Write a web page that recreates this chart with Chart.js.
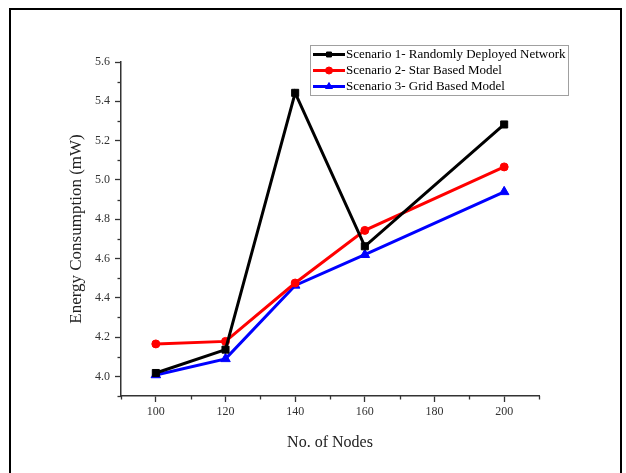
<!DOCTYPE html>
<html>
<head>
<meta charset="utf-8">
<script src="https://cdn.jsdelivr.net/npm/chart.js@4.4.0/dist/chart.umd.min.js"></script>
<style>
html,body{margin:0;padding:0;background:#fff;overflow:hidden;}
#wrap{position:relative;width:626px;height:473px;}
</style>
</head>
<body>
<div id="wrap"><canvas id="c" width="626" height="473"></canvas></div>
<script>
const nodes = [100, 120, 140, 160, 200];
const scenario1 = [4.017, 4.136, 5.443, 4.662, 5.282];
const scenario2 = [4.165, 4.178, 4.475, 4.743, 5.066];
const scenario3 = [4.007, 4.089, 4.463, 4.619, 4.939];
const seriesLabels = [
  'Scenario 1- Randomly Deployed Network',
  'Scenario 2- Star Based Model',
  'Scenario 3- Grid Based Model'
];
const xTickLabels = ['100', '120', '140', '160', '180', '200'];
const yTickLabels = ['4.0', '4.2', '4.4', '4.6', '4.8', '5.0', '5.2', '5.4', '5.6'];

const FONT = '"Liberation Serif", "Times New Roman", serif';
const AXIS = '#333';

function pts(vals) { return nodes.map((n, i) => ({x: n, y: vals[i]})); }

const frameAndLegend = {
  id: 'frameAndLegend',
  beforeDraw(chart) {
    const ctx = chart.ctx;
    ctx.save();
    ctx.fillStyle = '#fff';
    ctx.fillRect(0, 0, chart.width, chart.height);
    ctx.strokeStyle = '#000';
    ctx.lineWidth = 2;
    ctx.strokeRect(10, 9, 611, 520);
    ctx.restore();
  },
  afterDraw(chart) {
    const ctx = chart.ctx;
    ctx.save();
    // minor ticks
    ctx.strokeStyle = AXIS;
    ctx.lineWidth = 1.3;
    const xs = chart.scales.x, ys = chart.scales.y;
    xs.ticks.forEach(t => {
      if (!xTickLabels.includes(String(t.value))) {
        const px = Math.round(xs.getPixelForValue(t.value)) + 0.5;
        ctx.beginPath(); ctx.moveTo(px, xs.top); ctx.lineTo(px, xs.top + 3.5); ctx.stroke();
      }
    });
    ys.ticks.forEach(t => {
      if (!yTickLabels.includes(t.value.toFixed(1))) {
        const py = Math.round(ys.getPixelForValue(t.value)) + 0.5;
        ctx.beginPath(); ctx.moveTo(ys.right, py); ctx.lineTo(ys.right - 3.5, py); ctx.stroke();
      }
    });
    // legend
    ctx.strokeStyle = '#a0a0a0';
    ctx.lineWidth = 1;
    ctx.strokeRect(310.5, 45.5, 258, 50);
    chart.data.datasets.forEach((ds, i) => {
      const y = 54.5 + 16 * i;
      ctx.strokeStyle = ds.borderColor;
      ctx.lineWidth = 3;
      ctx.beginPath(); ctx.moveTo(313, y); ctx.lineTo(345, y); ctx.stroke();
      ctx.fillStyle = ds.borderColor;
      ctx.lineWidth = 1;
      Chart.helpers.drawPoint(ctx, {pointStyle: ds.pointStyle, radius: ds.pointStyle === 'triangle' ? 4 : 3.5, rotation: 0, borderWidth: 1}, 329, y);
      ctx.fillStyle = '#000';
      ctx.font = '13px ' + FONT;
      ctx.textBaseline = 'middle';
      ctx.textAlign = 'left';
      ctx.fillText(ds.label, 346, y + 0.5);
    });
    ctx.restore();
  }
};

new Chart(document.getElementById('c'), {
  type: 'line',
  data: {
    datasets: [
      {label: seriesLabels[0], data: pts(scenario1), borderColor: '#000', backgroundColor: '#000',
       pointStyle: 'rect', pointRadius: 5, borderWidth: 3, pointBorderWidth: 1},
      {label: seriesLabels[1], data: pts(scenario2), borderColor: '#ff0000', backgroundColor: '#ff0000',
       pointStyle: 'circle', pointRadius: 4, borderWidth: 3, pointBorderWidth: 1},
      {label: seriesLabels[2], data: pts(scenario3), borderColor: '#0000ff', backgroundColor: '#0000ff',
       pointStyle: 'triangle', pointRadius: 5.5, borderWidth: 3, pointBorderWidth: 1}
    ]
  },
  options: {
    responsive: false,
    animation: false,
    events: [],
    layout: {padding: {top: 62, right: 87, left: 0, bottom: 0}},
    plugins: {legend: {display: false}, tooltip: {enabled: false}},
    scales: {
      x: {
        type: 'linear', min: 90, max: 210,
        afterFit: s => { s.height = 77; },
        border: {color: AXIS, width: 1.5},
        grid: {drawOnChartArea: false, drawTicks: true, tickLength: 6,
               tickColor: c => (c.tick && xTickLabels.includes(String(c.tick.value))) ? AXIS : 'rgba(0,0,0,0)', tickWidth: 1.3},
        ticks: {stepSize: 10, autoSkip: false, maxRotation: 0, padding: 3, color: AXIS,
                font: {family: FONT, size: 12},
                callback: v => xTickLabels.includes(String(v)) ? String(v) : ''},
        title: {display: true, text: 'No. of Nodes', color: '#222', font: {family: FONT, size: 16},
                padding: {top: 0, bottom: 21}}
      },
      y: {
        type: 'linear', min: 3.9, max: 5.6,
        afterFit: s => { s.width = 121; },
        border: {color: AXIS, width: 1.5},
        grid: {drawOnChartArea: false, drawTicks: true, tickLength: 6,
               tickColor: c => (c.tick && yTickLabels.includes(c.tick.value.toFixed(1))) ? AXIS : 'rgba(0,0,0,0)', tickWidth: 1.3},
        ticks: {stepSize: 0.1, autoSkip: false, padding: 5, color: AXIS,
                font: {family: FONT, size: 12},
                callback: v => yTickLabels.includes(v.toFixed(1)) ? v.toFixed(1) : ''},
        title: {display: true, text: 'Energy Consumption (mW)', color: '#222', font: {family: FONT, size: 17},
                padding: {top: 66, bottom: 0}}
      }
    }
  },
  plugins: [frameAndLegend]
});
</script>
</body>
</html>
